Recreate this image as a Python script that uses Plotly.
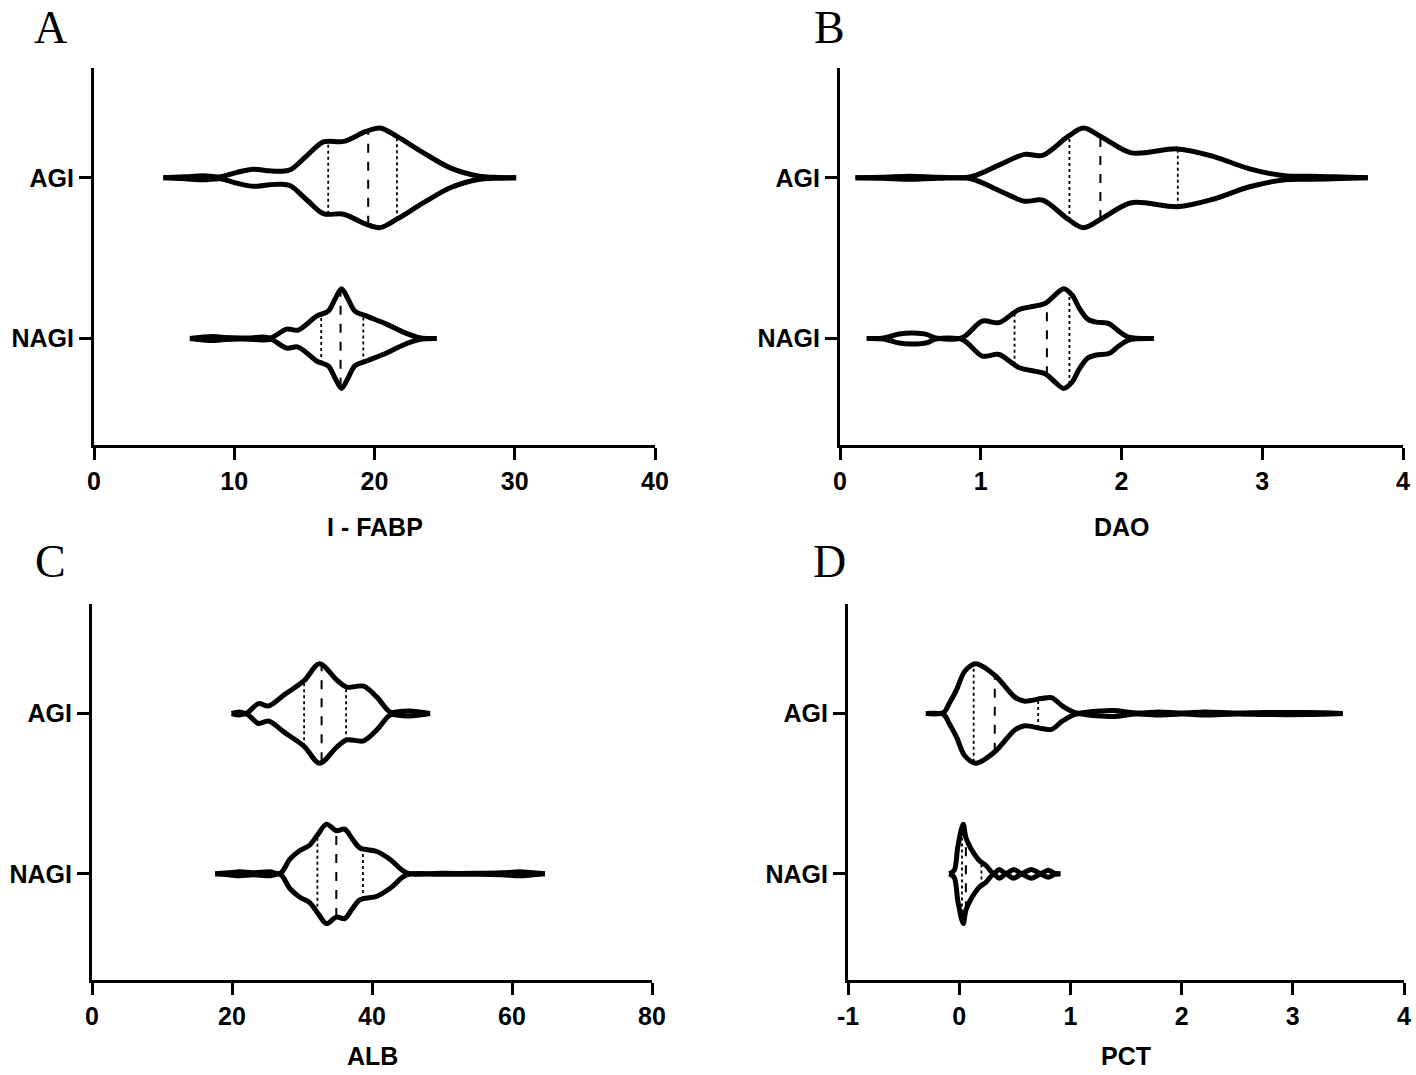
import numpy as np
import plotly.graph_objects as go

# ---------------- data ----------------
categories = ["NAGI", "AGI"]          # y positions 0 and 1

# Panel A : I - FABP  (x value, relative density 0..1)
a_agi_x = [4.94, 6.5, 7.8, 9.0, 10.2, 11.36, 12.5, 13.3, 14.0, 15.2, 16.35, 17.8, 19.4, 20.4, 21.6, 23.5, 25.4, 27.5, 28.5, 30.1]
a_agi_d = [0, 0.02, 0.04, 0.02, 0.11, 0.17, 0.14, 0.13, 0.16, 0.45, 0.72, 0.73, 0.93, 1.0, 0.83, 0.5, 0.2, 0.03, 0.01, 0]
a_agi_q = [16.7, 19.55, 21.6]
a_nagi_x = [6.84, 7.8, 8.5, 9.3, 10.5, 11.5, 12.1, 12.66, 13.73, 14.56, 15.87, 16.7, 17.2, 17.65, 18.1, 18.6, 19.44, 20.86, 22.05, 23.2, 24.43]
a_nagi_d = [0, 0.03, 0.04, 0.02, 0.01, 0.02, 0.03, 0.02, 0.19, 0.17, 0.45, 0.55, 0.8, 1.0, 0.8, 0.55, 0.45, 0.29, 0.13, 0.02, 0]
a_nagi_q = [16.2, 17.58, 19.2]

# Panel B : DAO
b_agi_x = [0.11, 0.3, 0.5, 0.7, 0.93, 1.14, 1.31, 1.44, 1.62, 1.73, 1.87, 2.07, 2.40, 2.65, 2.91, 3.16, 3.35, 3.5, 3.75]
b_agi_d = [0, 0.01, 0.03, 0.01, 0.02, 0.27, 0.47, 0.45, 0.83, 1.0, 0.8, 0.5, 0.58, 0.43, 0.18, 0.04, 0.03, 0.02, 0]
b_agi_q = [1.63, 1.85, 2.40]
b_nagi_x = [0.19, 0.31, 0.42, 0.52, 0.62, 0.68, 0.87, 1.01, 1.13, 1.27, 1.46, 1.53, 1.59, 1.65, 1.70, 1.76, 1.82, 1.91, 1.98, 2.05, 2.23]
b_nagi_d = [0, 0.01, 0.09, 0.11, 0.08, 0.01, 0.02, 0.35, 0.32, 0.58, 0.71, 0.88, 1.0, 0.87, 0.61, 0.39, 0.33, 0.3, 0.15, 0.03, 0]
b_nagi_q = [1.24, 1.47, 1.63]

# Panel C : ALB
c_agi_x = [19.95, 21.0, 22.1, 23.76, 25.2, 27.5, 30.3, 32.5, 35.0, 36.4, 38.8, 40.7, 42.6, 44.0, 45.4, 46.8, 48.3]
c_agi_d = [0, 0.03, 0.01, 0.2, 0.15, 0.38, 0.66, 1.0, 0.67, 0.53, 0.55, 0.33, 0.03, 0.04, 0.05, 0.03, 0]
c_agi_q = [30.3, 32.8, 36.3]
c_nagi_x = [17.6, 19.5, 21.1, 23.0, 25.4, 26.9, 28.3, 29.7, 31.1, 32.3, 33.5, 34.9, 36.1, 37.2, 38.3, 40.7, 42.6, 44.95, 50, 55, 58.5, 61.1, 63, 64.7]
c_nagi_d = [0, 0.02, 0.04, 0.02, 0.04, 0.01, 0.3, 0.47, 0.58, 0.8, 1.0, 0.87, 0.9, 0.7, 0.52, 0.45, 0.29, 0.02, 0.01, 0.01, 0.02, 0.04, 0.02, 0]
c_nagi_q = [32.2, 34.9, 38.7]

# Panel D : PCT
d_agi_x = [-0.30, -0.14, -0.09, -0.025, 0.05, 0.15, 0.32, 0.50, 0.58, 0.74, 0.83, 0.93, 1.055, 1.2, 1.39, 1.59, 1.80, 2.0, 2.21, 2.5, 2.74, 3.13, 3.45]
d_agi_d = [0, 0.02, 0.2, 0.47, 0.85, 1.0, 0.77, 0.33, 0.25, 0.3, 0.32, 0.15, 0.01, 0.04, 0.06, 0.01, 0.03, 0.01, 0.03, 0.01, 0.02, 0.02, 0]
d_agi_q = [0.13, 0.32, 0.71]
d_nagi_x = [-0.09, -0.045, -0.012, 0.036, 0.06, 0.10, 0.18, 0.24, 0.31, 0.36, 0.42, 0.49, 0.56, 0.65, 0.73, 0.80, 0.86, 0.91]
d_nagi_d = [0, 0.07, 0.55, 1.0, 0.73, 0.53, 0.27, 0.17, 0.01, 0.09, 0.01, 0.09, 0.01, 0.09, 0.01, 0.07, 0.01, 0]
d_nagi_q = [0.025, 0.06, 0.20]

x_titles = ["I - FABP", "DAO", "ALB", "PCT"]
panel_letters = ["A", "B", "C", "D"]
x_ranges = [[0, 40], [0, 4], [0, 80], [-1, 4]]
x_ticks = [[0, 10, 20, 30, 40], [0, 1, 2, 3, 4], [0, 20, 40, 60, 80], [-1, 0, 1, 2, 3, 4]]
x_ticktext = [["0", "10", "20", "30", "40"], ["0", "1", "2", "3", "4"],
              ["0", "20", "40", "60", "80"], ["-1", "0", "1", "2", "3", "4"]]

panels = [
    [(a_nagi_x, a_nagi_d, a_nagi_q), (a_agi_x, a_agi_d, a_agi_q)],
    [(b_nagi_x, b_nagi_d, b_nagi_q), (b_agi_x, b_agi_d, b_agi_q)],
    [(c_nagi_x, c_nagi_d, c_nagi_q), (c_agi_x, c_agi_d, c_agi_q)],
    [(d_nagi_x, d_nagi_d, d_nagi_q), (d_agi_x, d_agi_d, d_agi_q)],
]

# ---------------- layout geometry ----------------
W, H = 1416, 1075
px_x = [(94, 655), (840, 1403), (92, 652), (848, 1404)]
px_y = [(68, 445), (68, 445), (604, 980), (604, 980)]
title_y_px = [527, 527, 1056, 1056]
letter_px = [(50, 0), (829, 0), (50, 534), (829, 534)]
Y_RANGE = [-0.662, 1.683]
HALF = 0.31          # maximum half-width of a violin, in category units
LINE_W = 5

fig = go.Figure()
font_lab = dict(family="Arial, Liberation Sans, sans-serif", size=25, color="black", weight="bold")

for i, violins in enumerate(panels):
    xa = "x" if i == 0 else f"x{i+1}"
    ya = "y" if i == 0 else f"y{i+1}"
    for pos, (xs, ds, qs) in enumerate(violins):
        xs = np.array(xs, dtype=float)
        ds = np.array(ds, dtype=float)
        for sign in (1, -1):
            fig.add_trace(go.Scatter(
                x=xs, y=pos + sign * HALF * ds, mode="lines",
                line=dict(color="black", width=LINE_W, shape="spline", smoothing=0.9),
                xaxis=xa, yaxis=ya, showlegend=False, hoverinfo="skip"))
        for k, q in enumerate(qs):
            h = HALF * np.interp(q, xs, ds)
            fig.add_trace(go.Scatter(
                x=[q, q], y=[pos - h, pos + h], mode="lines",
                line=dict(color="black", width=2 if k == 1 else 1.8,
                          dash="dash" if k == 1 else "dot"),
                xaxis=xa, yaxis=ya, showlegend=False, hoverinfo="skip"))

layout = dict(width=W, height=H, margin=dict(l=0, r=0, t=0, b=0, autoexpand=False),
              paper_bgcolor="white", plot_bgcolor="white", showlegend=False)
annotations = []
for i in range(4):
    sx = "" if i == 0 else str(i + 1)
    x0, x1 = px_x[i]
    y0, y1 = px_y[i]
    layout["xaxis" + sx] = dict(
        domain=[x0 / W, x1 / W], range=x_ranges[i], tickvals=x_ticks[i], ticktext=x_ticktext[i],
        showline=True, linecolor="black", linewidth=3, ticks="outside",
        ticklen=12, tickwidth=3, tickcolor="black", showgrid=False, zeroline=False,
        tickfont=font_lab, anchor="y" + sx, fixedrange=True, automargin=False)
    layout["yaxis" + sx] = dict(
        domain=[1 - y1 / H, 1 - y0 / H], range=Y_RANGE, tickvals=[0, 1], ticktext=categories,
        showline=True, linecolor="black", linewidth=3, ticks="outside",
        ticklen=12, tickwidth=3, tickcolor="black", showgrid=False, zeroline=False,
        tickfont=font_lab, anchor="x" + sx, fixedrange=True, automargin=False)
    annotations.append(dict(text=x_titles[i], x=(x0 + x1) / 2 / W, y=1 - title_y_px[i] / H,
                            xref="paper", yref="paper", showarrow=False,
                            xanchor="center", yanchor="middle", font=font_lab))
    lx, ly = letter_px[i]
    annotations.append(dict(text=panel_letters[i], x=lx / W, y=1 - ly / H,
                            xref="paper", yref="paper", showarrow=False,
                            xanchor="center", yanchor="top",
                            font=dict(family="Times New Roman, Liberation Serif, serif", size=46, color="black")))
layout["annotations"] = annotations
fig.update_layout(**layout)
fig.write_html("out.html", config={"displayModeBar": False},
               post_script="document.body.style.margin='0';")
